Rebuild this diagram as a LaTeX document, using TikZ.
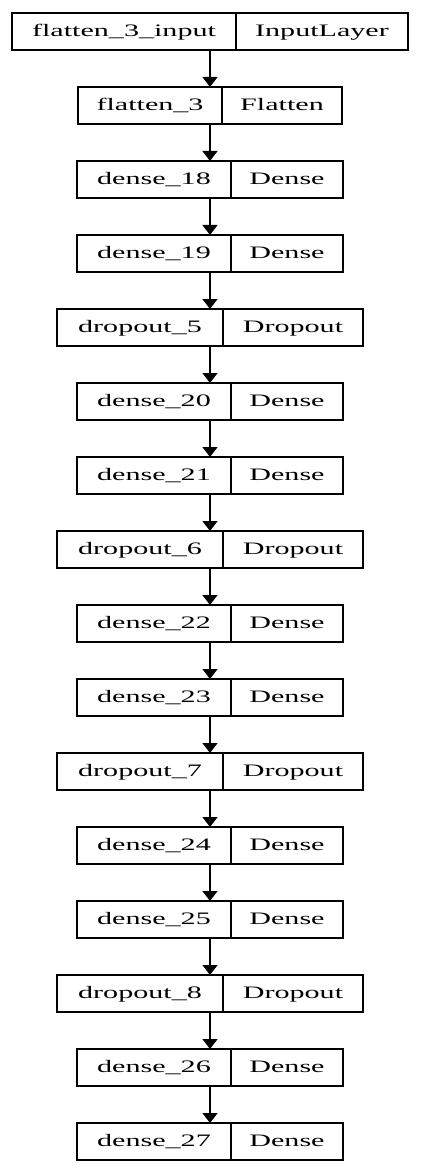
\documentclass[tikz,border=0pt]{standalone}
\usepackage{fontspec}
\newfontfamily\lblfont[FakeStretch=1.72]{Liberation Serif}
\usetikzlibrary{arrows.meta}
\begin{document}
\begin{tikzpicture}[x=1pt,y=-1pt,
  cellbox/.style={draw=black,line width=1.3pt,rectangle,inner sep=0pt,outer sep=0pt,minimum height=37pt},
  lbl/.style={inner sep=0pt,anchor=base,font=\lblfont\fontsize{17.5}{20}\selectfont,text=black},
  conn/.style={line width=1.3pt,draw=black,-{Triangle[width=15pt,length=10pt]}}]
\useasboundingbox (0,0) rectangle (420,1174);
\foreach \i/\nm/\ty/\L/\D/\R in {
 0/flatten\_3\_input/InputLayer/12/236/408,
 1/flatten\_3/Flatten/78/222/342,
 2/dense\_18/Dense/77/231/343,
 3/dense\_19/Dense/77/231/343,
 4/dropout\_5/Dropout/57/223/363,
 5/dense\_20/Dense/77/231/343,
 6/dense\_21/Dense/77/231/343,
 7/dropout\_6/Dropout/57/223/363,
 8/dense\_22/Dense/77/231/343,
 9/dense\_23/Dense/77/231/343,
 10/dropout\_7/Dropout/57/223/363,
 11/dense\_24/Dense/77/231/343,
 12/dense\_25/Dense/77/231/343,
 13/dropout\_8/Dropout/57/223/363,
 14/dense\_26/Dense/77/231/343,
 15/dense\_27/Dense/77/231/343}{
  \pgfmathsetmacro{\yc}{31.5+74*\i}
  \pgfmathsetmacro{\bxw}{\R-\L}
  \pgfmathsetmacro{\xc}{(\L+\R)/2}
  \pgfmathsetmacro{\xl}{(\L+\D)/2}
  \pgfmathsetmacro{\xr}{(\D+\R)/2}
  \node[cellbox,minimum width=\bxw pt] (b\i) at (\xc,\yc) {};
  \draw[line width=1.3pt] (\D,\yc-18.5) -- (\D,\yc+18.5);
  \node[lbl] (n\i) at (\xl,\yc+5) {\nm};
  \node[lbl] (t\i) at (\xr,\yc+5) {\ty};
}
\foreach \i [evaluate=\i as \j using int(\i+1)] in {0,...,14}{
  \draw[conn] (b\i.south) -- (b\j.north);
}
\end{tikzpicture}
\end{document}
